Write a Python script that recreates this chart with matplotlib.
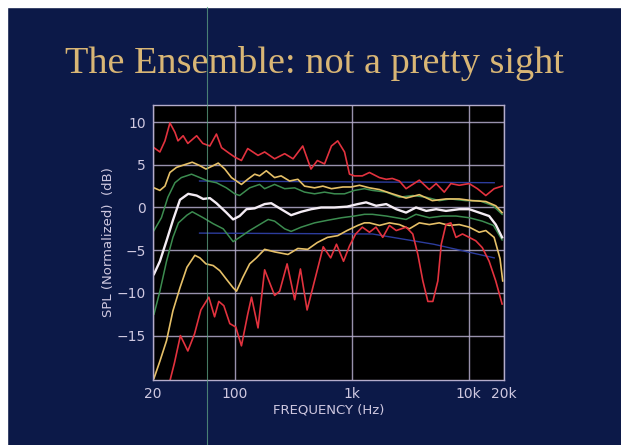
import matplotlib
matplotlib.use("Agg")
import matplotlib.pyplot as plt
from matplotlib.lines import Line2D
from matplotlib.patches import Rectangle

# ---- data (frequency in Hz, level in dB) ----
red_top_f = [20.4, 22.9, 25.3, 27.9, 30.8, 32.7, 36.2, 39.7, 47.2, 53.3, 61.2, 69.7, 77.1, 90.7,
             100, 114, 129, 158, 180, 219, 267, 315, 381, 448, 508, 585, 670, 758, 867, 956,
             1055, 1230, 1416, 1723, 1970, 2220, 2551, 2910, 3778, 4597, 5260, 6171, 7030,
             8284, 10080, 11850, 13980, 16470, 19270]
red_top_db = [7.0, 6.5, 7.8, 9.9, 8.8, 7.8, 8.4, 7.5, 8.4, 7.5, 7.2, 8.6, 7.0, 6.3,
              5.9, 5.5, 6.9, 6.1, 6.5, 5.7, 6.3, 5.7, 7.2, 4.5, 5.5, 5.1, 7.2, 7.8, 6.5, 3.9,
              3.7, 3.7, 4.1, 3.5, 3.3, 3.4, 3.1, 2.2, 3.2, 2.1, 2.8, 1.8, 2.8,
              2.6, 2.8, 2.2, 1.4, 2.2, 2.5]

yel_top_f = [20.4, 22.9, 25.3, 27.9, 31.8, 39.0, 43.3, 50.3, 56.7, 65.4, 72.2, 82.2, 93.7, 114,
             129, 148, 163, 186, 219, 249, 294, 346, 395, 481, 566, 671, 839, 990, 1164,
             1416, 1723, 2220, 2910, 3778, 4880, 6380, 8284, 10700, 13980, 17000, 19270]
yel_top_db = [2.3, 2.0, 2.5, 4.1, 4.7, 5.1, 5.3, 4.9, 4.5, 4.9, 5.2, 4.5, 3.5, 2.7,
              3.3, 3.9, 3.7, 4.3, 3.5, 3.7, 3.1, 3.3, 2.5, 2.3, 2.5, 2.2, 2.4, 2.4, 2.6,
              2.3, 2.1, 1.6, 1.1, 1.5, 0.8, 1.0, 1.0, 0.8, 0.7, 0.2, -0.6]

grn_top_f = [20.4, 23.6, 26.8, 30.8, 34.9, 42.7, 50.3, 59.1, 69.7, 84.8, 100, 110, 134, 163,
             180, 219, 267, 325, 395, 481, 585, 712, 867, 1055, 1283, 1500, 1970, 2551,
             3320, 4330, 5594, 6940, 9440, 12270, 16140, 19270]
grn_top_db = [-2.7, -1.2, 1.2, 2.9, 3.5, 3.9, 3.5, 3.1, 2.9, 2.3, 1.6, 1.4, 2.3, 2.7,
              2.2, 2.7, 2.2, 2.3, 1.8, 1.6, 1.8, 1.6, 1.6, 2.0, 2.2, 2.0, 1.8, 1.2,
              1.4, 1.2, 0.8, 1.0, 0.8, 0.8, 0.2, -0.8]

white_f = [20.4, 22.9, 26.1, 29.6, 34.0, 40.0, 47.2, 53.7, 61.2, 69.7, 84.8, 96.8, 110, 126,
           148, 180, 205, 249, 303, 370, 450, 547, 712, 911, 1126, 1325, 1615, 1970, 2400,
           2910, 3540, 4330, 5260, 6380, 8284, 10080, 12270, 14930, 17000, 19270]
white_db = [-7.8, -6.3, -3.9, -1.5, 0.9, 1.6, 1.4, 1.0, 1.1, 0.5, -0.6, -1.4, -1.0, -0.2,
            -0.1, 0.4, 0.5, -0.2, -0.9, -0.5, -0.2, 0.0, 0.0, 0.1, 0.4, 0.6, 0.2, 0.4, -0.2,
            -0.6, 0.0, -0.4, -0.2, -0.4, -0.2, -0.2, -0.6, -1.0, -2.0, -3.5]

grn_low_f = [20.4, 22.9, 26.1, 29.6, 33.0, 39.0, 43.3, 53.7, 65.4, 79.7, 96.8, 110, 134, 163,
             193, 219, 267, 303, 370, 481, 620, 817, 1055, 1283, 1500, 1970, 2400, 2910,
             3540, 4597, 5970, 7770, 10080, 13050, 16250, 19270]
grn_low_db = [-12.5, -9.8, -6.3, -3.5, -1.8, -0.9, -0.5, -1.2, -1.9, -2.5, -4.0, -3.5, -2.7, -2.0,
              -1.4, -1.6, -2.5, -2.8, -2.3, -1.8, -1.5, -1.2, -1.0, -0.8, -0.8, -1.0, -1.2, -1.4,
              -0.8, -1.2, -1.0, -1.0, -1.2, -1.6, -2.1, -3.8]

yel_low_f = [20.4, 22.9, 26.1, 29.6, 34.0, 39.0, 45.6, 50.3, 56.7, 65.4, 74.5, 84.8, 96.8, 103.5,
             117, 134, 153, 180, 219, 285, 346, 420, 508, 620, 758, 911, 1126, 1283, 1416,
             1723, 2096, 2551, 3104, 3778, 4597, 5594, 6807, 8284, 10080, 12270, 13980,
             16470, 18500, 19500]
yel_low_db = [-20.0, -18.0, -15.6, -12.1, -9.4, -7.0, -5.6, -5.9, -6.6, -6.8, -7.4, -8.4, -9.4, -9.8,
              -8.2, -6.6, -5.9, -4.9, -5.2, -5.5, -4.8, -4.9, -4.1, -3.5, -3.3, -2.7, -2.1, -1.8, -1.8,
              -2.1, -1.8, -2.0, -2.5, -1.8, -2.0, -1.8, -2.1, -2.0, -2.3, -2.9, -2.7,
              -3.5, -6.0, -8.6]

red_low_f = [27.9, 30.5, 34.3, 39.7, 45.3, 51.3, 60.0, 67.2, 73.0, 80.6, 90.7, 102, 114, 129,
             139, 158, 180, 219, 242, 280, 325, 364, 415, 510, 570, 660, 740, 850, 956, 1080,
             1230, 1416, 1610, 1840, 2096, 2400, 2910, 3320, 3670, 4050, 4470, 4930, 5440,
             5820, 6380, 7030, 7770, 8830, 10080, 11480, 13050, 14930, 17000, 19270]
red_low_db = [-20.3, -18.2, -15.0, -16.8, -14.8, -12.0, -10.5, -12.8, -11.0, -11.5, -13.6, -14.0, -16.2, -12.5,
              -10.5, -14.1, -7.3, -10.3, -9.8, -6.6, -10.8, -7.2, -12.0, -7.2, -4.6, -5.9, -4.3, -6.3, -4.5, -3.1,
              -2.3, -2.9, -2.3, -3.5, -2.1, -2.7, -2.3, -3.1, -5.5, -8.6, -11.0, -11.0, -8.6,
              -4.3, -2.0, -1.8, -3.5, -3.1, -3.5, -3.9, -4.7, -6.3, -8.6, -11.3]

blue_top_f = [50, 16500]
blue_top_db = [3.1, 2.9]
blue_low_f = [50, 1500, 5000, 16500]
blue_low_db = [-3.0, -3.1, -4.3, -5.9]

xticks = [20, 100, 1000, 10000, 20000]
xtick_labels = ["20", "100", "1k", "10k", "20k"]
yticks = [10, 5, 0, -5, -10, -15]

# ---- figure ----
BG = '#0c1948'
GRID = '#b4accb'
TXT = '#cfc8e0'

fig = plt.figure(figsize=(6.21, 4.45), dpi=100, facecolor=BG)

# scan edges: white strip at the top and left
fig.patches.append(Rectangle((0, 1 - 7 / 445), 1, 7 / 445, transform=fig.transFigure,
                             color='white', zorder=0))
fig.patches.append(Rectangle((0, 0), 7 / 621, 1, transform=fig.transFigure,
                             color='white', zorder=0))

fig.text(0.507, 0.857, "The Ensemble: not a pretty sight", ha='center', va='center',
         fontsize=27.5, color='#d9b675', family='Liberation Serif')

ax = fig.add_axes([153 / 621, 1 - 380 / 445, 351 / 621, 275 / 445])
ax.set_facecolor('black')
ax.set_xscale('log')
ax.set_xlim(20, 20000)
ax.set_ylim(-20.2, 12)

ax.set_xticks(xticks)
ax.set_xticklabels(xtick_labels)
ax.xaxis.set_minor_locator(matplotlib.ticker.NullLocator())
ax.set_yticks(yticks)
ax.tick_params(length=0, colors=TXT, labelsize=10, pad=5)
ax.grid(True, color=GRID, lw=1.0, alpha=0.85)
ax.set_axisbelow(True)
for s in ax.spines.values():
    s.set_color(GRID)
    s.set_linewidth(1.0)

ax.set_xlabel("FREQUENCY (Hz)", color=TXT, fontsize=9.5, labelpad=2)
ax.set_ylabel("SPL (Normalized)  (dB)", color=TXT, fontsize=9.5, labelpad=1)

ax.plot(blue_top_f, blue_top_db, color='#2c3c9c', lw=1.0)
ax.plot(blue_low_f, blue_low_db, color='#2c3c9c', lw=1.0)
ax.plot(grn_top_f, grn_top_db, color='#3c8c50', lw=1.1)
ax.plot(grn_low_f, grn_low_db, color='#3c8c50', lw=1.1)
ax.plot(yel_top_f, yel_top_db, color='#e6c068', lw=1.2)
ax.plot(yel_low_f, yel_low_db, color='#e6c068', lw=1.2)
ax.plot(red_top_f, red_top_db, color='#e2323e', lw=1.2)
ax.plot(red_low_f, red_low_db, color='#e2323e', lw=1.2)
ax.plot(white_f, white_db, color='#f4ecf4', lw=1.7)

# faint green scan line running down the slide
fig.lines.append(Line2D([207 / 621, 207 / 621], [0, 1 - 7 / 445], transform=fig.transFigure,
                        color='#5fa484', lw=0.8, alpha=0.75, zorder=5))

fig.savefig("out.png", dpi=100, facecolor=BG)
